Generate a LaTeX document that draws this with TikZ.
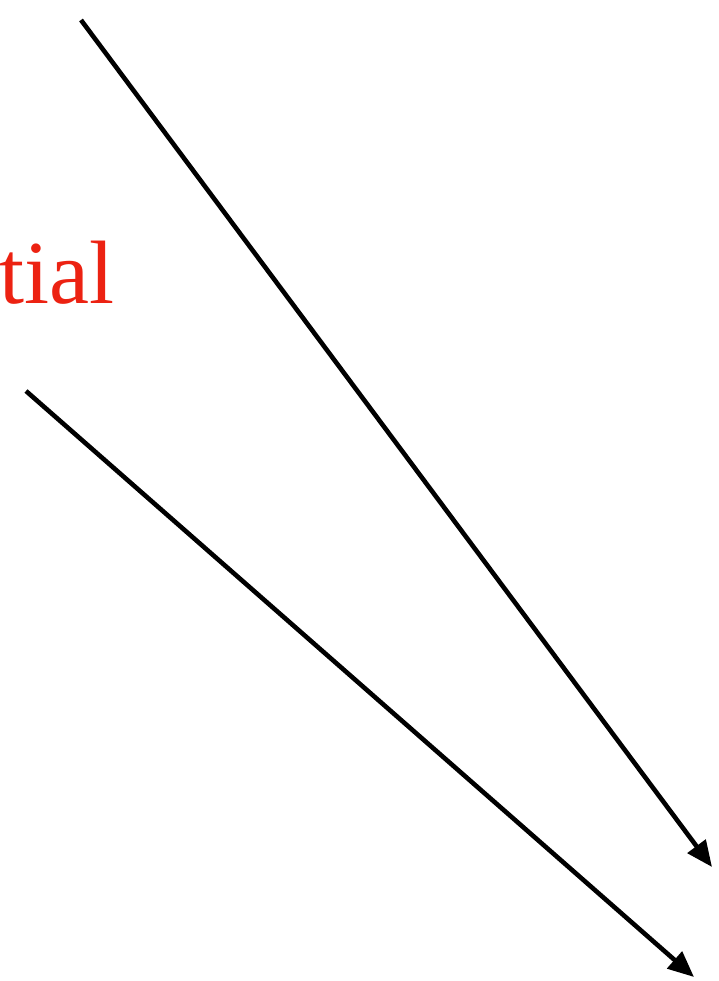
\documentclass[tikz,border=0pt]{standalone}
\usepackage{fontspec}
\setmainfont{Liberation Serif}
\usetikzlibrary{arrows.meta}
\definecolor{labelred}{RGB}{236,34,18}
\begin{document}
\begin{tikzpicture}[x=1pt,y=1pt,
  arr/.style={line width=4.6pt,-{Triangle[length=26pt,width=22pt]}},
  lbl/.style={text=labelred,font=\fontsize{90}{90}\selectfont,inner sep=0pt,anchor=base west}]
\useasboundingbox (0,0) rectangle (718,-981);
\node[lbl] (t) at (-1,-303) {tial};
\coordinate (a1) at (81,-20);
\coordinate (b1) at (712,-867);
\coordinate (a2) at (26,-391);
\coordinate (b2) at (694,-977);
\draw[arr] (a1) -- (b1);
\draw[arr] (a2) -- (b2);
\end{tikzpicture}
\end{document}
